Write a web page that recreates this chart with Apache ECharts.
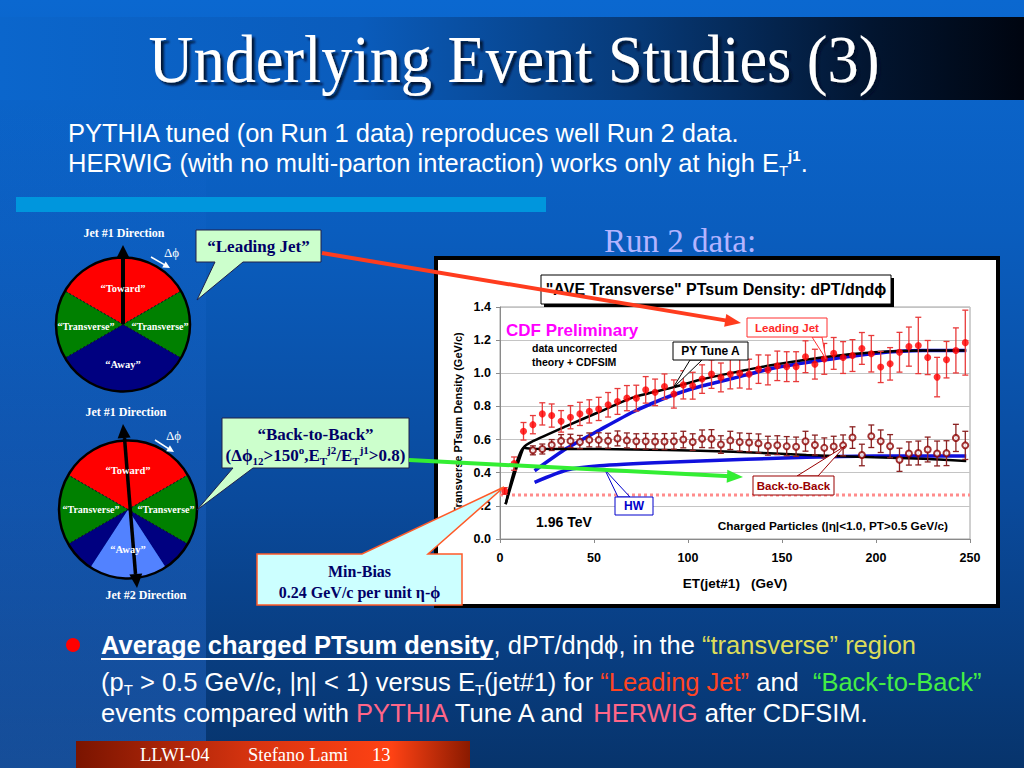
<!DOCTYPE html>
<html><head><meta charset="utf-8">
<script src="https://cdn.jsdelivr.net/npm/echarts@6/dist/echarts.min.js"></script>
<style>html,body{margin:0;padding:0;background:#0a5cbe;overflow:hidden}#c{width:1024px;height:768px}</style>
</head><body><div id="c"></div>
<script>
// ---------- data ----------
const etLeading = [2.5,7.5,12.5,17.5,22.5,27.5,32.5,37.5,42.5,47.5,52.5,57.5,62.5,67.5,72.5,77.5,82.5,87.5,92.5,97.5,102.5,107.5,112.5,117.5,122.5,127.5,132.5,137.5,142.5,147.5,152.5,157.5,162.5,167.5,172.5,177.5,182.5,187.5,192.5,197.5,202.5,207.5,212.5,217.5,222.5,227.5,232.5,237.5,242.5,247.5];
const leadingY = [0.29,0.455,0.65,0.69,0.755,0.745,0.71,0.735,0.755,0.77,0.785,0.81,0.83,0.85,0.85,0.90,0.885,0.92,0.875,0.93,0.925,0.965,0.995,0.975,0.995,1.0,0.995,1.025,1.02,1.045,1.04,1.04,1.10,1.055,1.087,1.12,1.095,1.107,1.15,1.118,1.038,1.057,1.127,1.161,1.168,1.095,0.977,1.082,1.138,1.185];
const leadingErr = [0.02,0.04,0.053,0.055,0.067,0.07,0.065,0.07,0.07,0.07,0.07,0.074,0.078,0.076,0.078,0.08,0.08,0.076,0.085,0.085,0.081,0.086,0.086,0.087,0.089,0.089,0.09,0.086,0.09,0.089,0.09,0.09,0.096,0.09,0.093,0.096,0.096,0.096,0.096,0.11,0.094,0.098,0.12,0.118,0.17,0.103,0.119,0.11,0.136,0.196];

const etB2B = [17.5,22.5,27.5,32.5,37.5,42.5,47.5,52.5,57.5,62.5,67.5,72.5,77.5,82.5,87.5,92.5,97.5,102.5,107.5,112.5,117.5,122.5,127.5,132.5,137.5,142.5,147.5,152.5,157.5,162.5,167.5,172.5,177.5,182.5,187.5,192.5,197.5,202.5,207.5,212.5,217.5,222.5,227.5,232.5,237.5,242.5,247.5];
const b2bY = [0.535,0.543,0.567,0.592,0.592,0.585,0.598,0.598,0.593,0.607,0.595,0.59,0.59,0.588,0.588,0.59,0.6,0.585,0.605,0.605,0.57,0.595,0.585,0.582,0.577,0.563,0.566,0.56,0.557,0.59,0.567,0.55,0.558,0.565,0.612,0.507,0.62,0.59,0.56,0.478,0.516,0.519,0.54,0.516,0.518,0.61,0.565];
const b2bErr = [0.027,0.03,0.033,0.038,0.04,0.04,0.042,0.043,0.045,0.045,0.045,0.045,0.047,0.047,0.048,0.048,0.05,0.05,0.053,0.055,0.053,0.055,0.055,0.055,0.057,0.057,0.057,0.058,0.058,0.06,0.06,0.06,0.062,0.063,0.065,0.065,0.068,0.068,0.07,0.07,0.07,0.072,0.075,0.075,0.075,0.082,0.085];

const pyLeadX = [3,12.5,17.5,35,53,71,92,106,124,145,172,199,225,248];
const pyLeadY = [0.21,0.55,0.59,0.68,0.768,0.855,0.915,0.96,1.004,1.05,1.097,1.127,1.137,1.137];
const hwLeadX = [18.4,35.5,53,71,92,106,124,145,172,199,225,248];
const hwLeadY = [0.412,0.547,0.658,0.768,0.869,0.919,0.97,1.03,1.08,1.12,1.137,1.137];
const pyB2BX = [3,12.5,17.7,53,89,124,163,199,225,248];
const pyB2BY = [0.21,0.55,0.545,0.543,0.537,0.527,0.507,0.493,0.485,0.471];
const hwB2BX = [18.4,35.5,53,89,131,163,199,248];
const hwB2BY = [0.342,0.416,0.442,0.463,0.481,0.493,0.501,0.501];
const minBiasX = [0,250];
const minBiasY = [0.265,0.265];

const xTicks = [0,50,100,150,200,250];
const yTicks = ['0.0','0.2','0.4','0.6','0.8','1.0','1.2','1.4'];

// ---------- helpers ----------
const SERIF = '"Liberation Serif","Times New Roman",serif';
const SANS = '"Liberation Sans",Arial,sans-serif';
const zip = (a,b,c) => a.map((v,i)=> c ? [v,b[i],c[i]] : [v,b[i]]);
const rad = d => d*Math.PI/180;

function txt(x,y,text,fontSize,fill,opts){
  opts = opts||{};
  const align = opts.align||'left';
  const st = {text:text, fill:fill, fontSize:fontSize, fontFamily:opts.family||SANS, fontWeight:opts.weight||'normal',
    align:align, textAlign:align, verticalAlign:'middle', textVerticalAlign:'middle'};
  if (opts.rich) st.rich = opts.rich;
  if (opts.shadow) Object.assign(st, opts.shadow);
  const el = {type:'text', x:x, y:y, z:opts.z||60, silent:true, style:st};
  if (opts.scaleX) el.scaleX = opts.scaleX;
  return el;
}
function rect(x,y,w,h,fill,stroke,lw,z){
  return {type:'rect', z:z||50, silent:true, shape:{x:x,y:y,width:w,height:h}, style:{fill:fill, stroke:stroke||null, lineWidth:lw||0}};
}
function poly(points,fill,stroke,lw,z){
  return {type:'polygon', z:z||50, silent:true, shape:{points:points}, style:{fill:fill, stroke:stroke||null, lineWidth:lw||0}};
}
function seg(x1,y1,x2,y2,color,lw,z,dash){
  return {type:'line', z:z||50, silent:true, shape:{x1:x1,y1:y1,x2:x2,y2:y2}, style:{stroke:color, lineWidth:lw, lineDash:dash||null}};
}
function head(x1,y1,x2,y2,len,hw){
  const dx=x2-x1, dy=y2-y1, L=Math.hypot(dx,dy), ux=dx/L, uy=dy/L;
  const bx=x2-ux*len, by=y2-uy*len;
  return [[x2,y2],[bx-uy*hw,by+ux*hw],[bx+uy*hw,by-ux*hw]];
}
function arrow(x1,y1,x2,y2,color,lw,len,hw,z){
  const dx=x2-x1, dy=y2-y1, L=Math.hypot(dx,dy);
  const ex=x2-dx/L*(len*0.8), ey=y2-dy/L*(len*0.8);
  return [seg(x1,y1,ex,ey,color,lw,z), poly(head(x1,y1,x2,y2,len,hw),color,null,0,z)];
}
function wheel(cx,cy,r,parts,bounds,z){
  const out=[];
  parts.forEach(p=>out.push({type:'sector', z:z, silent:true, shape:{cx:cx,cy:cy,r:r,r0:0,startAngle:rad(p[0]),endAngle:rad(p[1]),clockwise:true}, style:{fill:p[2]}}));
  bounds.forEach(a=>out.push(seg(cx,cy,cx+r*Math.cos(rad(a)),cy+r*Math.sin(rad(a)),'#111',1,z+1,[2,2])));
  out.push({type:'circle', z:z+2, silent:true, shape:{cx:cx,cy:cy,r:r}, style:{fill:null, stroke:'#000', lineWidth:2.5}});
  return out;
}
function measure(text,font){
  const c=document.createElement('canvas').getContext('2d'); c.font=font; return c.measureText(text).width;
}

const RED='#ff0000', GREEN='#008000', NAVY='#000080', LBLUE='#5282ff';
const g = [];

// ---------- slide background ----------
g.push({type:'rect', z:-20, silent:true, shape:{x:0,y:0,width:1024,height:768},
  style:{fill:new echarts.graphic.LinearGradient(0,0,0,1,[{offset:0,color:'#0b68d0'},{offset:0.3,color:'#0a5dbe'},{offset:0.65,color:'#0a4a9c'},{offset:1,color:'#07346c'}])}});
g.push({type:'rect', z:-19, silent:true, shape:{x:0,y:100,width:206,height:668},
  style:{fill:new echarts.graphic.LinearGradient(0,0,0,1,[{offset:0,color:'rgba(40,120,235,0)'},{offset:1,color:'rgba(50,125,235,0.35)'}])}});
g.push({type:'rect', z:-18, silent:true, shape:{x:0,y:17,width:1024,height:83},
  style:{fill:new echarts.graphic.LinearGradient(0,0,1,0,[{offset:0,color:'#0b66cc'},{offset:0.35,color:'#0a5cbc'},{offset:0.62,color:'#073a78'},{offset:0.85,color:'#021530'},{offset:1,color:'#000510'}])}});
g.push(rect(16,197,530,15,'#0096dd',null,0,-17));

// title + subtitle
const SF = 25.5;
g.push(txt(514,59,'Underlying Event Studies (3)',68,'#ffffff',{family:SERIF,align:'center',scaleX:0.915,shadow:{textShadowColor:'rgba(0,10,40,0.9)',textShadowOffsetX:3,textShadowOffsetY:3,textShadowBlur:2}}));
g.push(txt(68,133,'PYTHIA tuned (on Run 1 data) reproduces well Run 2 data.',SF,'#ffffff'));
g.push(txt(68,163,'{w|HERWIG (with no multi-parton interaction) works only at high E}{sub|T}{sup|j1}{w|.}',SF,'#ffffff',
  {rich:{w:{fontSize:SF,fontFamily:SANS,fill:'#fff',lineHeight:30},sub:{fontSize:15,fontFamily:SANS,fill:'#fff',lineHeight:15,verticalAlign:'bottom'},sup:{fontSize:15,fontFamily:SANS,fontWeight:'bold',fill:'#fff',lineHeight:15,verticalAlign:'top'}}}));
g.push(txt(604,241,'Run 2 data:',33,'#b4b4ff',{family:SERIF}));

// chart white frame
g.push(rect(436,258,562,348,'#ffffff','#000000',4,-10));

// ---------- left wheels ----------
g.push(...wheel(123,324.5,67,[[-150,-30,RED],[-30,30,GREEN],[30,150,NAVY],[150,210,GREEN]],[-150,-30,30,150],10));
g.push(...arrow(123,324,123,245,'#000',4,14,7,14));
g.push(txt(124,233,'Jet #1 Direction',12,'#fff',{family:SERIF,weight:'bold',align:'center'}));
g.push(txt(164,252,'Δϕ',13,'#fff',{family:SERIF}));
g.push(...arrow(151,257,170,268,'#fff',1.5,7,3.5,14));
g.push(txt(123,288,'“Toward”',10.5,'#fff',{family:SERIF,weight:'bold',align:'center'}));
g.push(txt(86,326,'“Transverse”',10,'#fff',{family:SERIF,weight:'bold',align:'center'}));
g.push(txt(160,326,'“Transverse”',10,'#fff',{family:SERIF,weight:'bold',align:'center'}));
g.push(txt(123,364,'“Away”',10.5,'#fff',{family:SERIF,weight:'bold',align:'center'}));

g.push(...wheel(128,509.5,69,[[-150,-30,RED],[-30,30,GREEN],[30,57,NAVY],[57,123,LBLUE],[123,150,NAVY],[150,210,GREEN]],[-150,-30,30,150],10));
g.push(seg(124.5,438,135.5,574,'#000',3.5,14));
g.push(poly(head(135,574,123,424,14,6.5),'#000',null,0,14));
g.push(poly(head(124,438,137,588,14,6.5),'#000',null,0,14));
g.push(txt(126,412,'Jet #1 Direction',12,'#fff',{family:SERIF,weight:'bold',align:'center'}));
g.push(txt(166,435,'Δϕ',13,'#fff',{family:SERIF}));
g.push(...arrow(155,440,174,452,'#fff',1.5,7,3.5,14));
g.push(txt(128,470,'“Toward”',10.5,'#fff',{family:SERIF,weight:'bold',align:'center'}));
g.push(txt(91,509,'“Transverse”',10,'#fff',{family:SERIF,weight:'bold',align:'center'}));
g.push(txt(166,509,'“Transverse”',10,'#fff',{family:SERIF,weight:'bold',align:'center'}));
g.push(txt(128,549,'“Away”',10.5,'#fff',{family:SERIF,weight:'bold',align:'center'}));
g.push(txt(146,595,'Jet #2 Direction',12,'#fff',{family:SERIF,weight:'bold',align:'center'}));

// ---------- chart annotations ----------
g.push(rect(544,278,350,29,'#000',null,0,40));
g.push(rect(541,275,350,29,'#fff','#000',1,41));
g.push(txt(716,289.5,'"AVE Transverse" PTsum Density: dPT/dηdϕ',16,'#000',{weight:'bold',align:'center',z:42}));
g.push(txt(506,330,'CDF Preliminary',17,'#ff00ff',{weight:'bold',z:42}));
g.push(txt(532,348,'data uncorrected',10.5,'#000',{weight:'bold',z:42}));
g.push(txt(532,362,'theory + CDFSIM',10.5,'#000',{weight:'bold',z:42}));
g.push(txt(536,522,'1.96 TeV',14,'#000',{weight:'bold',z:42}));
g.push(txt(948,526,'Charged Particles (|η|<1.0, PT>0.5 GeV/c)',11.8,'#000',{weight:'bold',align:'right',z:42}));

g.push(poly([[812,337],[826,359],[822,337]],'#fff','#ff3030',1,42));
g.push(rect(747,318,80,19,'#fff','#ff3030',1,43));
g.push(txt(787,327.5,'Leading Jet',11.5,'#ff2a2a',{weight:'bold',align:'center',z:44}));
g.push(poly([[690,360],[673,388],[702,360]],'#fff','#000',1,42));
g.push(rect(673,342,75,18,'#fff','#000',1,43));
g.push(txt(710.5,351,'PY Tune A',12,'#000',{weight:'bold',align:'center',z:44}));
g.push(poly([[797,476],[845,446],[818,476]],'#fff','#990000',1,42));
g.push(rect(753,476,81,19,'#fff','#990000',1,43));
g.push(txt(793.5,485.5,'Back-to-Back',11.5,'#990000',{weight:'bold',align:'center',z:44}));
g.push(poly([[618,497],[605,470],[630,497]],'#fff','#0000cc',1,42));
g.push(rect(615,497,38,18,'#fff','#0000cc',1,43));
g.push(txt(634,506,'HW',12,'#0000cc',{weight:'bold',align:'center',z:44}));

// ---------- callouts ----------
const CALL_TXT = '#000066';
g.push(poly([[196,230],[321,230],[321,262],[243,262],[197,300],[215,262],[196,262]],'#ccffcc','#20204a',1,70));
g.push(txt(258.5,246,'“Leading Jet”',17,CALL_TXT,{family:SERIF,weight:'bold',align:'center',z:71}));
g.push(poly([[222,418],[409,418],[409,468],[253,468],[197,510],[233,468],[222,468]],'#ccffcc','#20204a',1,70));
g.push(txt(315.5,434,'“Back-to-Back”',17,CALL_TXT,{family:SERIF,weight:'bold',align:'center',z:71}));
const RB = {fontFamily:SERIF,fontWeight:'bold',fill:CALL_TXT};
g.push(txt(315.5,455,'{m|(Δϕ}{sub|12}{m|>150}{sup|o}{m|,E}{sub|T}{sup|j2}{m|/E}{sub|T}{sup|j1}{m|>0.8)}',17,CALL_TXT,
  {family:SERIF,weight:'bold',align:'center',z:71,rich:{m:Object.assign({fontSize:17,lineHeight:22},RB),sub:Object.assign({fontSize:11,lineHeight:11,verticalAlign:'bottom'},RB),sup:Object.assign({fontSize:11,lineHeight:11,verticalAlign:'top'},RB)}}));
g.push(poly([[257,554],[362,554],[504,487],[428,554],[462,554],[462,605],[257,605]],'#ccffff','#ff5a28',1.5,70));
g.push(txt(359.5,571,'Min-Bias',16,CALL_TXT,{family:SERIF,weight:'bold',align:'center',z:71}));
g.push(txt(359.5,592,'0.24 GeV/c per unit η-ϕ',16,CALL_TXT,{family:SERIF,weight:'bold',align:'center',z:71}));

// big arrows
g.push(...arrow(322,253,741,323,'#ff3c1e',4,16,6.5,75));
g.push(...arrow(409,460,743,477,'#33ee33',4,16,6.5,75));

// ---------- bottom text ----------
const BF = 25.5;
g.push({type:'circle', z:60, silent:true, shape:{cx:73,cy:645,r:7}, style:{fill:'#ff0000'}});
const b1 = 'Average charged PTsum density';
g.push(txt(101,645,'{b|'+b1+'}{w|, dPT/dηdϕ, in the }{y|“transverse” region}',BF,'#fff',
  {rich:{b:{fontSize:BF,fontFamily:SANS,fontWeight:'bold',fill:'#fff'},w:{fontSize:BF,fontFamily:SANS,fill:'#fff'},y:{fontSize:BF,fontFamily:SANS,fill:'#dcdc5a'}}}));
const uw = measure(b1,'bold '+BF+'px '+SANS);
g.push(seg(101,659,101+uw,659,'#fff',2,60));
const RW = {fontSize:BF,fontFamily:SANS,fill:'#fff',lineHeight:30};
g.push(txt(101,682,'{w|(p}{sub|T}{w| > 0.5 GeV/c, |η| < 1) versus E}{sub|T}{w|(jet#1) for }{r|“Leading Jet”}{w| and  }{g|“Back-to-Back”}',BF,'#fff',
  {rich:{w:RW,sub:{fontSize:15,fontFamily:SANS,fill:'#fff',lineHeight:15,verticalAlign:'bottom'},r:Object.assign({},RW,{fill:'#ff4422'}),g:Object.assign({},RW,{fill:'#44ee44'})}}));
g.push(txt(101,713,'{w|events compared with }{p|PYTHIA}{w| Tune A and }{p|HERWIG}{w| after CDFSIM.}',BF,'#fff',
  {rich:{w:RW,p:Object.assign({},RW,{fill:'#ff6688'})}}));

// footer
g.push({type:'rect', z:55, silent:true, shape:{x:76,y:741,width:394,height:27},
  style:{fill:new echarts.graphic.LinearGradient(0,0,1,0,[{offset:0,color:'#7a1400'},{offset:0.45,color:'#d83410'},{offset:0.8,color:'#ff4214'},{offset:1,color:'#8a1a00'}])}});
g.push(txt(140,755,'LLWI-04',18.5,'#fff',{family:SERIF}));
g.push(txt(248,755,'Stefano Lami',18.5,'#fff',{family:SERIF}));
g.push(txt(372,755,'13',18.5,'#fff',{family:SERIF}));

// ---------- chart ----------
function errBar(color){
  return function(params, api){
    const x=api.value(0), y=api.value(1), e=api.value(2);
    const hi=api.coord([x,y+e]), lo=api.coord([x,y-e]);
    const cap=3, st={stroke:color, lineWidth:1.3};
    return {type:'group', children:[
      {type:'line', shape:{x1:hi[0],y1:hi[1],x2:lo[0],y2:lo[1]}, style:st},
      {type:'line', shape:{x1:hi[0]-cap,y1:hi[1],x2:hi[0]+cap,y2:hi[1]}, style:st},
      {type:'line', shape:{x1:lo[0]-cap,y1:lo[1],x2:lo[0]+cap,y2:lo[1]}, style:st}
    ]};
  };
}
const lineS = (name,x,y,color,w,z) => ({name:name, type:'line', data:zip(x,y), showSymbol:false, smooth:0.2, z:z,
  lineStyle:{color:color, width:w}, itemStyle:{color:color}, silent:true});

const chart = echarts.init(document.getElementById('c'), null, {renderer:'svg', width:1024, height:768});
chart.setOption({
  animation:false,
  backgroundColor:'transparent',
  textStyle:{fontFamily:SANS},
  grid:{left:500, top:307, width:470, height:232, show:true, borderColor:'#a0a0a0', borderWidth:1, backgroundColor:'transparent'},
  xAxis:{type:'value', min:xTicks[0], max:xTicks[xTicks.length-1], interval:50,
    axisLine:{show:true, onZero:false, lineStyle:{color:'#8a8a8a'}}, axisTick:{show:true, length:4, lineStyle:{color:'#8a8a8a'}},
    axisLabel:{color:'#000', fontWeight:'bold', fontSize:12.5, margin:12, fontFamily:SANS}, splitLine:{show:false},
    name:'ET(jet#1)   (GeV)', nameLocation:'middle', nameGap:37, nameTextStyle:{color:'#000', fontWeight:'bold', fontSize:13.5, fontFamily:SANS}},
  yAxis:{type:'value', min:0, max:1.4, interval:0.2,
    axisLine:{show:true, lineStyle:{color:'#8a8a8a'}}, axisTick:{show:true, length:4, lineStyle:{color:'#8a8a8a'}},
    axisLabel:{color:'#000', fontWeight:'bold', fontSize:12.5, margin:9, fontFamily:SANS, formatter:(v)=>yTicks[Math.round(v/0.2)]},
    splitLine:{show:true, lineStyle:{color:'#c4c4c4', width:1}},
    name:'Transverse PTsum Density (GeV/c)', nameLocation:'middle', nameGap:37, nameRotate:90,
    nameTextStyle:{color:'#000', fontWeight:'bold', fontSize:11, fontFamily:SANS}},
  graphic:{elements:g},
  series:[
    {name:'Min-Bias', type:'line', data:zip(minBiasX,minBiasY), showSymbol:false, z:1, silent:true,
      lineStyle:{color:'#ff8c8c', width:3, type:[3,3]}},
    lineS('HW Leading Jet', hwLeadX, hwLeadY, '#1010dd', 3.5, 2),
    lineS('HW Back-to-Back', hwB2BX, hwB2BY, '#1010dd', 3.5, 2),
    lineS('PY Tune A Leading Jet', pyLeadX, pyLeadY, '#000000', 2.5, 3),
    lineS('PY Tune A Back-to-Back', pyB2BX, pyB2BY, '#000000', 2.5, 3),
    {name:'Leading Jet err', type:'custom', renderItem:errBar('#e83a3a'), data:zip(etLeading,leadingY,leadingErr), encode:{x:0,y:1}, z:4, silent:true},
    {name:'Back-to-Back err', type:'custom', renderItem:errBar('#8b2222'), data:zip(etB2B,b2bY,b2bErr), encode:{x:0,y:1}, z:4, silent:true},
    {name:'Leading Jet', type:'scatter', data:zip(etLeading,leadingY), symbol:'circle', symbolSize:7, z:5, silent:true, itemStyle:{color:'#ff0000'}},
    {name:'Back-to-Back', type:'scatter', data:zip(etB2B,b2bY), symbol:'emptyCircle', symbolSize:6, z:5, silent:true, itemStyle:{color:'#8b0000', borderWidth:1.2}}
  ]
});
</script>
</body></html>
